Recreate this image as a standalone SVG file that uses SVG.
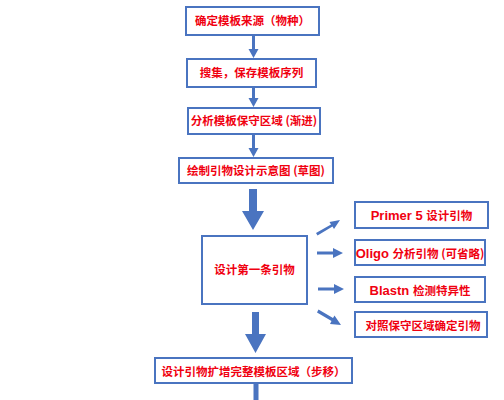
<svg xmlns="http://www.w3.org/2000/svg" width="504" height="400" viewBox="0 0 504 400">
<style>
.box{fill:#fff;stroke:#4a74c0;stroke-width:2}
.t{font-family:"Noto Sans CJK SC","Liberation Sans",sans-serif;font-size:11.5px;fill:#f00010;text-anchor:middle;font-weight:bold}
.l{font-family:"Liberation Sans",Arial,sans-serif;font-size:13px;font-weight:bold}
.a{fill:#4a74c0}
</style>
<rect width="504" height="400" fill="#fff"/>
<g id="connectors" class="a">
<polygon points="252,35 255,35 255,49 258.5,49 253.5,58 248.5,49 252,49"/>
<polygon points="252,87 255,87 255,98 258.5,98 253.5,107 248.5,98 252,98"/>
<polygon points="252,134 255,134 255,148 258.5,148 253.5,157 248.5,148 252,148"/>
<polygon points="249,189 257,189 257,211 264,211 253,230 242,211 249,211"/>
<polygon points="252,312 259,312 259,334 266,334 255.5,353 245,334 252,334"/>
<rect x="253.5" y="384" width="5" height="16"/>
<polygon points="316,233 331,224.5 329.5,222 340,220 334,229 332.5,226.5 317.5,235.5"/>
<polygon points="317,251.5 333,251.5 333,248 343,253 333,258 333,254.5 317,254.5"/>
<polygon points="318,287.5 334,287.5 334,284 344,289 334,294 334,290.5 318,290.5"/>
<polygon points="318.5,309.5 333,318 334.5,315.5 341,325 330,324 331.5,321 317,312.5"/>
</g>
<g id="n1"><rect class="box" x="186" y="7" width="133" height="28"/><text class="t" x="252.5" y="25">确定模板来源（物种）</text></g>
<g id="n2"><rect class="box" x="187" y="59" width="129" height="28"/><text class="t" x="251.5" y="77">搜集，保存模板序列</text></g>
<g id="n3"><rect class="box" x="188" y="108" width="132" height="26"/><text class="t" x="254" y="125">分析模板保守区域 (渐进)</text></g>
<g id="n4"><rect class="box" x="179" y="158" width="154" height="25"/><text class="t" x="256" y="175">绘制引物设计示意图 (草图)</text></g>
<g id="n5"><rect class="box" x="202" y="236" width="105" height="68"/><text class="t" x="254.5" y="274">设计第一条引物</text></g>
<g id="n6"><rect class="box" x="355" y="202" width="133" height="26"/><text class="t" x="421.5" y="220"><tspan class="l">Primer 5 </tspan>设计引物</text></g>
<g id="n7"><rect class="box" x="355" y="240" width="130" height="25"/><text class="t" x="420" y="258"><tspan class="l">Oligo </tspan>分析引物 (可省略)</text></g>
<g id="n8"><rect class="box" x="355" y="277" width="130" height="25"/><text class="t" x="420" y="295"><tspan class="l">Blastn </tspan>检测特异性</text></g>
<g id="n9"><rect class="box" x="355" y="312" width="132" height="25"/><text class="t" x="423" y="330">对照保守区域确定引物</text></g>
<g id="n10"><rect class="box" x="155" y="358" width="197" height="25"/><text class="t" x="253.5" y="376">设计引物扩增完整模板区域（步移）</text></g>
</svg>
